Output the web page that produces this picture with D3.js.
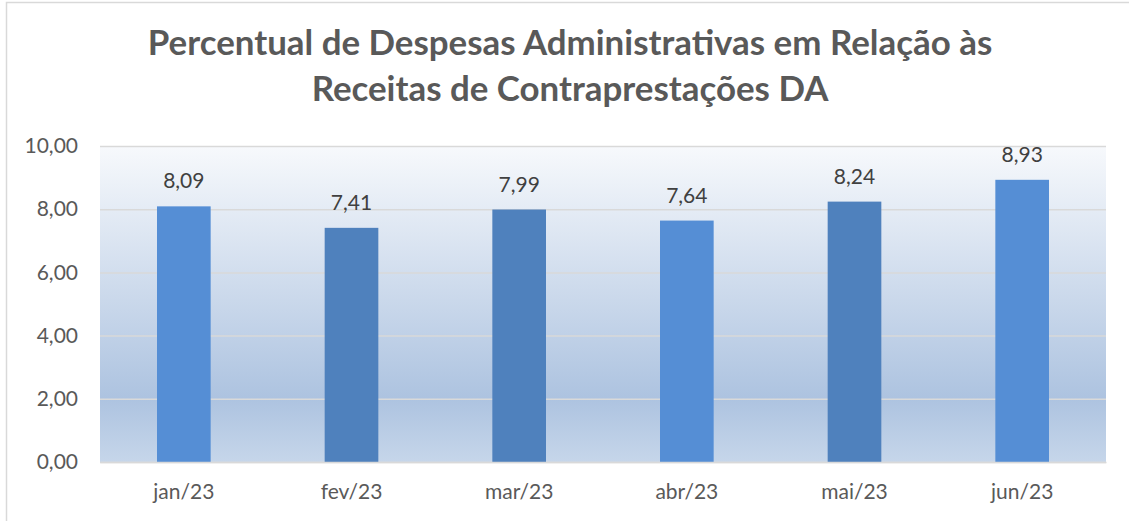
<!DOCTYPE html>
<html>
<head>
<meta charset="utf-8">
<script src="https://cdn.jsdelivr.net/npm/d3@7"></script>
<style>
  body { margin: 0; background: #fff; }
  svg { display: block; font-family: Lato, "Open Sans", sans-serif; }
</style>
</head>
<body>
<div id="chart"></div>
<script>
// chart data
const months = ['jan/23', 'fev/23', 'mar/23', 'abr/23', 'mai/23', 'jun/23'];
const values = [8.09, 7.41, 7.99, 7.64, 8.24, 8.93];
const barColors = ['#558ed5', '#4f81bd', '#4f81bd', '#558ed5', '#4f81bd', '#558ed5'];
const yTicks = [0, 2, 4, 6, 8, 10];
const titleLines = ['Percentual de Despesas Administrativas em Relação às', 'Receitas de Contraprestações DA'];

const width = 1129, height = 521;
const margin = { top: 146, right: 23, bottom: 59, left: 100 };
const innerW = width - margin.left - margin.right,
    innerH = height - margin.top - margin.bottom;

const fmt = v => d3.format('.2f')(v).replace('.', ',');

const svg = d3.select('#chart').append('svg')
    .attr('width', width)
    .attr('height', height);

// outer frame
svg.append('rect')
    .attr('x', 6.5).attr('y', 2.5)
    .attr('width', width + 10).attr('height', height + 10)
    .attr('fill', '#fff')
    .attr('stroke', '#d9d9d9')
    .attr('stroke-width', 1.5);

const defs = svg.append('defs');
const grad = defs.append('linearGradient')
    .attr('id', 'bg')
    .attr('x1', 0).attr('y1', 0).attr('x2', 0).attr('y2', 1);
grad.append('stop').attr('offset', '0%').attr('stop-color', '#f7f9fc');
grad.append('stop').attr('offset', '80%').attr('stop-color', '#adc3e0');
grad.append('stop').attr('offset', '100%').attr('stop-color', '#c6d6ea');

// title
const title = svg.append('text')
    .attr('text-anchor', 'middle')
    .attr('fill', '#595959')
    .attr('font-weight', 'bold');
title.selectAll('tspan')
  .data(titleLines)
  .enter().append('tspan')
    .attr('x', 570)
    .attr('y', (d, i) => 55 + i * 46)
    .text(d => d);

// scale title so first line spans ~845px
title.attr('font-size', 28);
const w0 = title.select('tspan').node().getComputedTextLength();
title.attr('font-size', 28 * 845 / w0);

const g = svg.append('g')
    .attr('transform', 'translate(' + margin.left + ',' + margin.top + ')');

const x = d3.scaleBand()
    .domain(months)
    .range([0, innerW])
    .paddingInner(0.68)
    .paddingOuter(0.34);

const y = d3.scaleLinear()
    .domain([0, 10])
    .range([innerH, 0]);

g.append('rect')
    .attr('width', innerW)
    .attr('height', innerH)
    .attr('fill', 'url(#bg)');

// gridlines
g.append('g')
    .call(d3.axisLeft(y).tickValues(yTicks).tickSize(-innerW).tickFormat(''))
    .call(a => a.select('.domain').remove())
    .selectAll('line')
      .attr('stroke', '#d9d9d9')
      .attr('stroke-width', 1.5);

// y labels
g.append('g')
    .call(d3.axisLeft(y).tickValues(yTicks).tickSize(0).tickPadding(22).tickFormat(fmt))
    .call(a => a.select('.domain').remove())
    .selectAll('text')
      .attr('fill', '#595959')
      .attr('font-size', 21)
      .attr('font-family', 'Lato, sans-serif');

// bars
g.selectAll('.bar')
  .data(values)
  .enter().append('rect')
    .attr('class', 'bar')
    .attr('x', (d, i) => x(months[i]))
    .attr('y', d => y(d))
    .attr('width', x.bandwidth())
    .attr('height', d => innerH - y(d))
    .attr('fill', (d, i) => barColors[i]);

// data labels
g.selectAll('.lbl')
  .data(values)
  .enter().append('text')
    .attr('class', 'lbl')
    .attr('x', (d, i) => x(months[i]) + x.bandwidth() / 2)
    .attr('y', d => y(d) - 18)
    .attr('text-anchor', 'middle')
    .attr('fill', '#404040')
    .attr('font-size', 21)
    .text(fmt);

// x axis
g.append('g')
    .attr('transform', 'translate(0,' + innerH + ')')
    .call(d3.axisBottom(x).tickSize(0).tickPadding(22))
    .call(a => a.select('.domain').attr('stroke', '#d9d9d9').attr('stroke-width', 1.5))
    .selectAll('text')
      .attr('fill', '#595959')
      .attr('font-size', 21)
      .attr('font-family', 'Lato, sans-serif');
</script>
</body>
</html>
